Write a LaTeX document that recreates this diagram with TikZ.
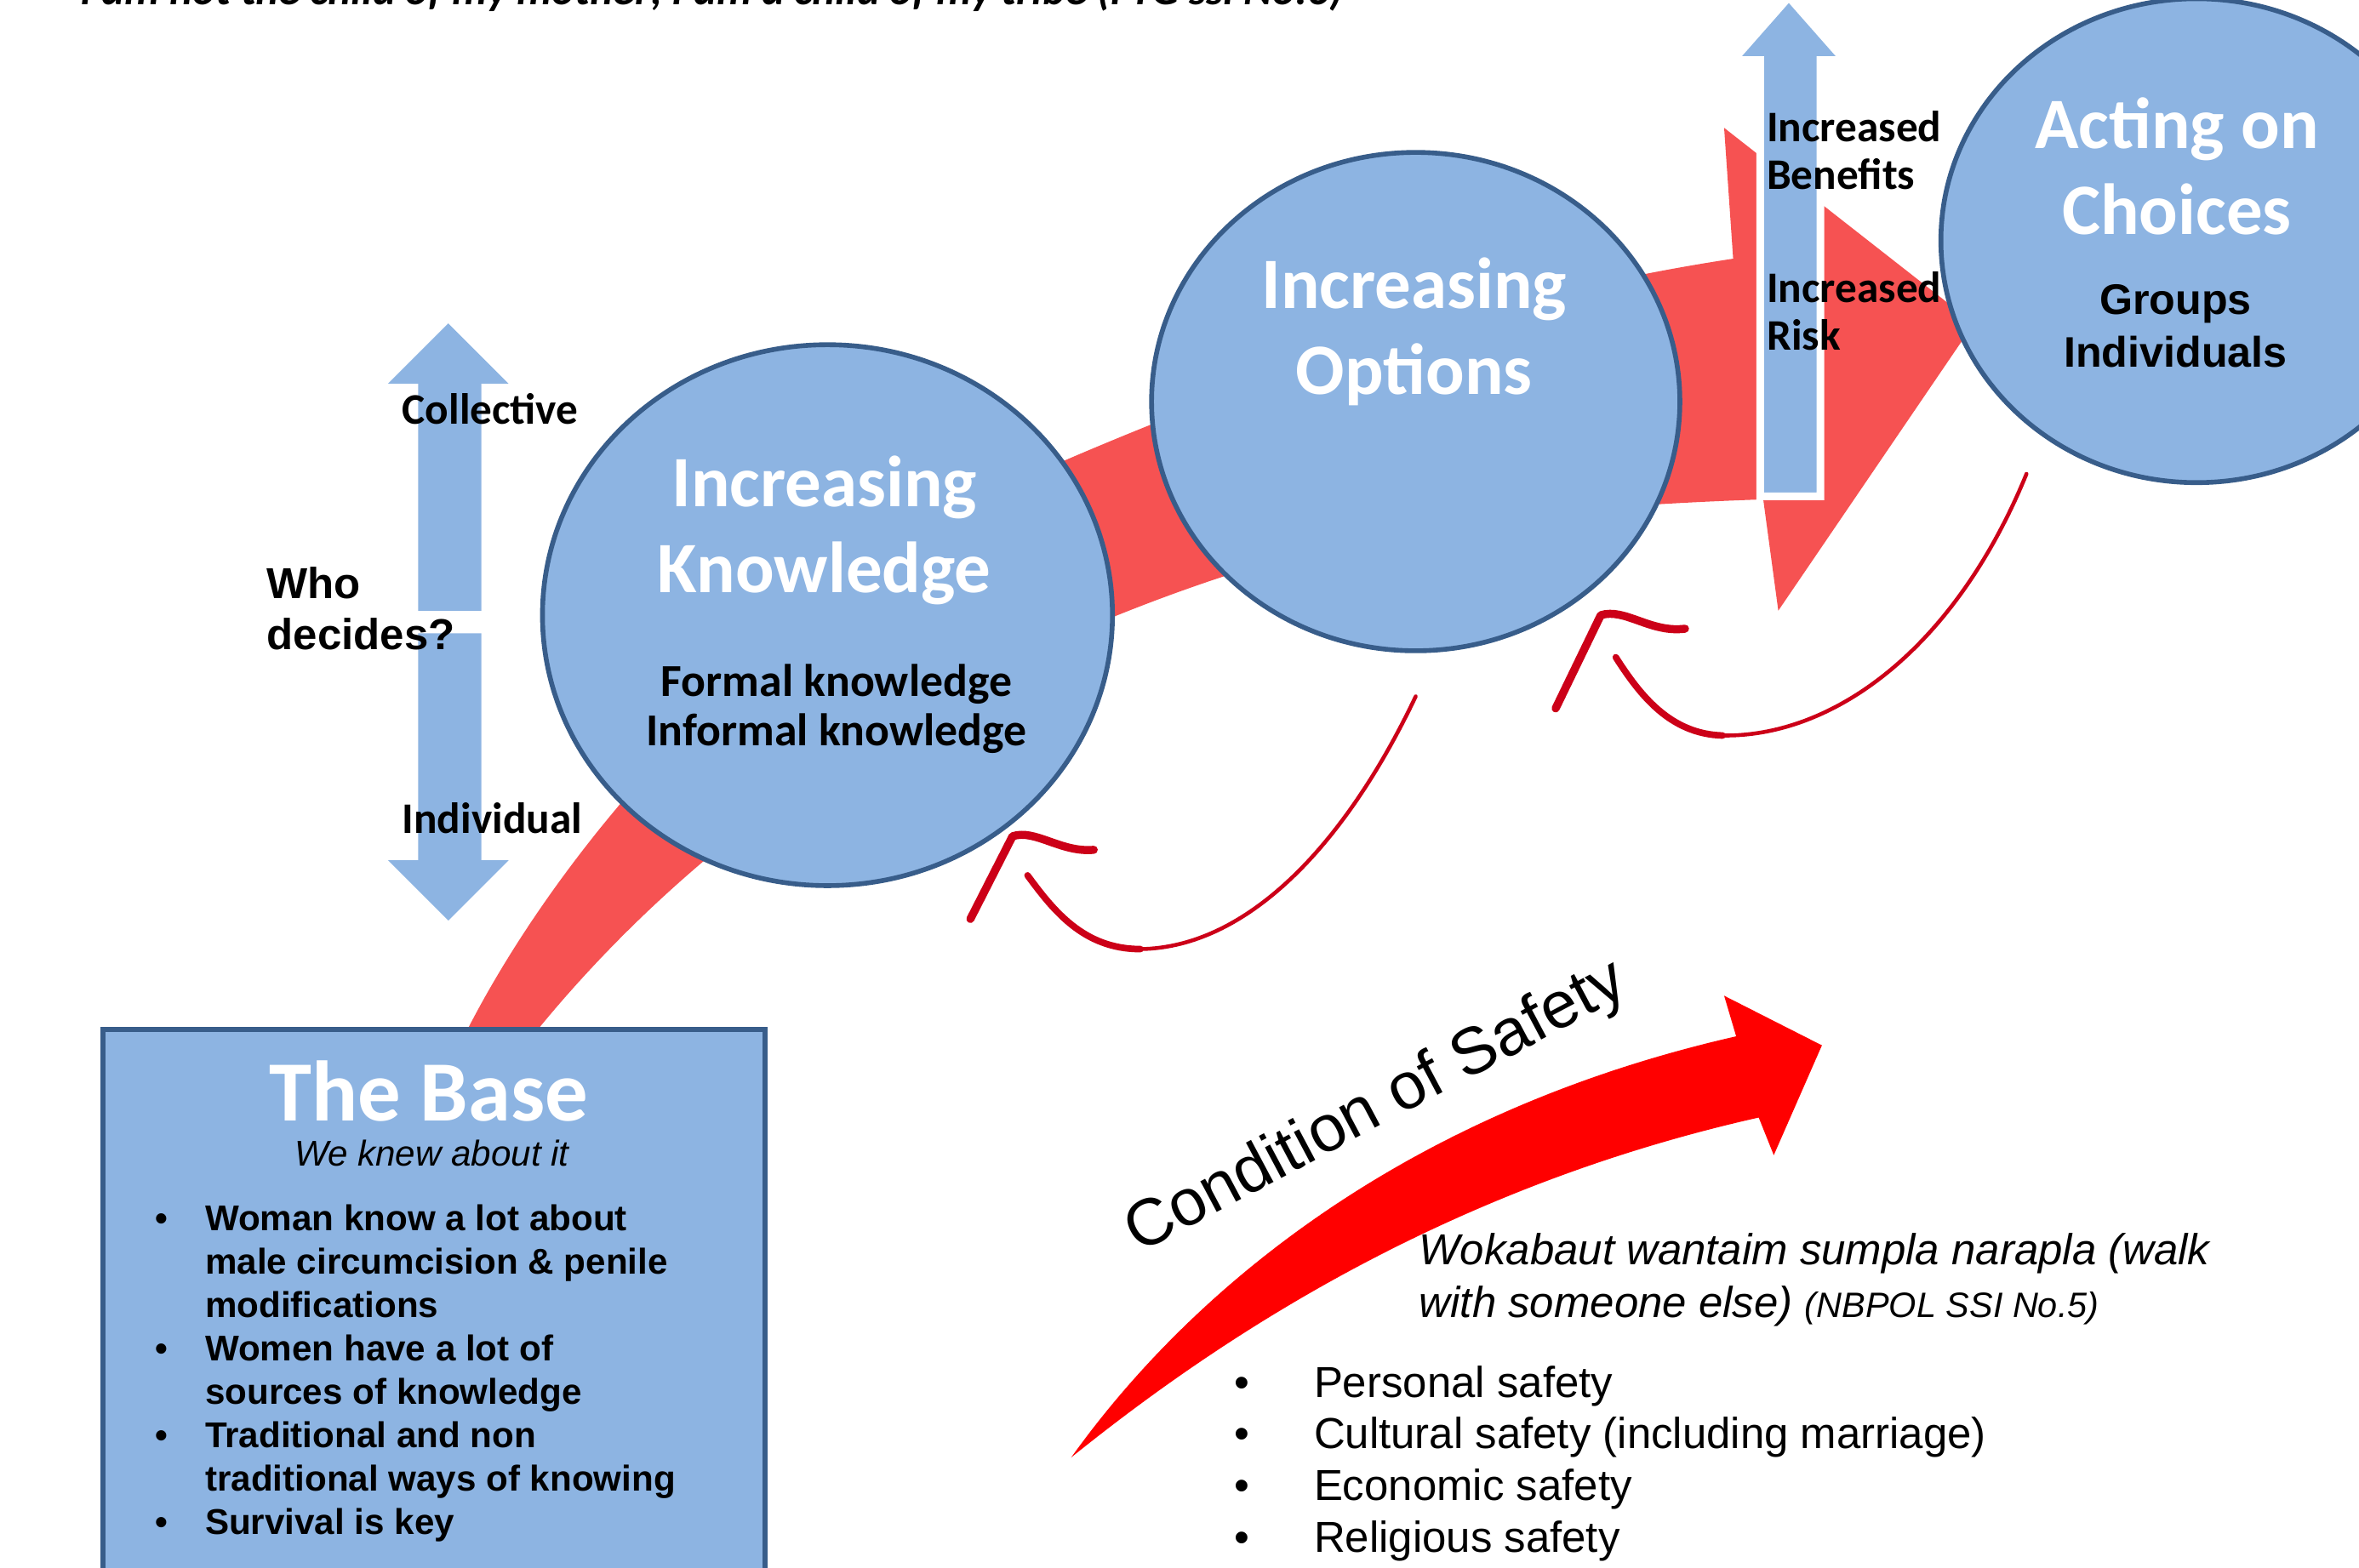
\documentclass[tikz,border=0pt]{standalone}
\usepackage{fontspec}
\setmainfont{Liberation Sans}
\newfontfamily\calibri{Carlito}
\usetikzlibrary{shapes.geometric}

\definecolor{bubblefill}{RGB}{141,180,226}
\definecolor{bubbleedge}{RGB}{56,93,138}
\definecolor{bandred}{RGB}{246,82,82}
\definecolor{safered}{RGB}{255,0,0}
\definecolor{loopred}{RGB}{204,0,24}

\tikzset{
  bubble/.style={ellipse, draw=bubbleedge, fill=bubblefill, line width=1.6pt, inner sep=0pt},
  basebox/.style={rectangle, draw=bubbleedge, fill=bubblefill, line width=1.6pt, anchor=north west, inner sep=0pt},
  bluearrow/.style={fill=bubblefill},
  title/.style={inner sep=0pt, align=center, text=white, font=\calibri\bfseries\fontsize{24.2}{28.7}\selectfont},
  subtitle/.style={inner sep=0pt, align=center, font=\calibri\bfseries\fontsize{15.3}{16.6}\selectfont},
  smalllabel/.style={inner sep=0pt, align=left, anchor=base west, font=\calibri\bfseries\fontsize{14.6}{16.1}\selectfont},
  loopline/.style={draw=loopred, line width=1.3pt, line cap=round, line join=round},
  loophead/.style={draw=loopred, line width=2.7pt, line cap=round, line join=round}
}

\begin{document}
\begin{tikzpicture}[x=0.01768cm, y=-0.01768cm]
      \clip (0,0) rectangle (1568,1042);
      % quotation line at the top edge
      \node[inner sep=0pt, anchor=base west, font=\calibri\bfseries\itshape\fontsize{14.6}{17}\selectfont] (quote) at (53,3)
        {I am not the child of my mother; I am a child of my tribe (FTG ssi No.6)};

      % the wide red band rising from the base to the last circle
      \fill[bandred] (303,700) .. controls (370,560) and (520,390) .. (708,306)
        .. controls (850,245) and (1000,195) .. (1152,172) -- (1146,85) -- (1312,215)
        -- (1182,406) -- (1172,332) .. controls (1000,338) and (900,355) .. (817,382)
        .. controls (640,440) and (470,540) .. (345,700) -- cycle;

      % who decides
      \fill[bluearrow] (278,406) -- (278,255) -- (258,255) -- (298,215) -- (338,255) -- (320,255) -- (320,406) -- cycle;
      \fill[bluearrow] (278,421) -- (278,572) -- (258,572) -- (298,612) -- (338,572) -- (320,572) -- (320,421) -- cycle;
      \node[smalllabel] (collective) at (267,282) {Collective};
      \node[smalllabel] (individual) at (267,554) {Individual};
      \node[inner sep=0pt, align=left, anchor=base west, font=\bfseries\fontsize{14.5}{17.1}\selectfont] (who) at (177,432) {Who\\decides?};

      % benefits and risk
      \filldraw[bluearrow, draw=white, line width=2.6pt] (1170,330) -- (1170,40) -- (1152,40) -- (1189,-2) -- (1226,40) -- (1210,40) -- (1210,330) -- cycle;

      % circles
      \node[bubble, minimum width=6.70cm, minimum height=6.36cm] (knowledge) at (550,409) {};
      \node[bubble, minimum width=6.21cm, minimum height=5.86cm] (options) at (941,267) {};
      \node[bubble, minimum width=6.01cm, minimum height=5.69cm] (acting) at (1460,160) {};

      \node[title, anchor=base] (knowtitle) at (548,394) {Increasing\\Knowledge};
      \node[subtitle, anchor=base] (knowsub) at (556,496) {Formal knowledge\\Informal knowledge};
      \node[title, anchor=base] (opttitle) at (940,262) {Increasing\\Options};
      \node[title, anchor=base] (acttitle) at (1447,156) {Acting on\\Choices};
      \node[inner sep=0pt, align=center, anchor=base, font=\bfseries\fontsize{14.3}{17.6}\selectfont] (actsub) at (1446,244) {Groups\\Individuals};

      \node[smalllabel] (benefits) at (1174,126) {Increased\\Benefits};
      \node[smalllabel] (risk) at (1174,233) {Increased\\Risk};

      % feedback loops
      \coordinate (loopa) at (941,463);
      \coordinate (loopb) at (1347,315);
      \draw[loopline] (loopa) .. controls (895,560) and (830,630) .. (758,631);
      \draw[loopline, line width=2.2pt] (758,631) .. controls (720,631) and (700,605) .. (683,582);
      \draw[loophead] (645,611) -- (673,556) .. controls (688,551) and (705,567) .. (727,565);
      \draw[loopline] (loopb) .. controls (1300,430) and (1220,490) .. (1145,489);
      \draw[loopline, line width=2.2pt] (1145,489) .. controls (1110,488) and (1090,462) .. (1074,437);
      \draw[loophead] (1034,471) -- (1064,409) .. controls (1080,404) and (1097,421) .. (1120,418);

      % the base
      \node[basebox, minimum width=7.78cm, minimum height=6.70cm] (base) at (67,683) {};
      \node[inner sep=0pt, anchor=base, text=white, font=\calibri\bfseries\fontsize{28.7}{32}\selectfont] (basetitle) at (285,745) {The Base};
      \node[inner sep=0pt, anchor=base, font=\itshape\fontsize{12}{14}\selectfont] (basesub) at (287,775) {We knew about it};
      \node[inner sep=0pt, align=left, anchor=base west, font=\bfseries\fontsize{12}{14.5}\selectfont] (baselist) at (136,1020)
        {\llap{\textbullet\hspace{12.5pt}}Woman know a lot about\\
         male circumcision \&  penile\\
         modifications\\
         \llap{\textbullet\hspace{12.5pt}}Women have a lot of\\
         sources  of knowledge\\
         \llap{\textbullet\hspace{12.5pt}}Traditional and non\\
         traditional ways of knowing\\
         \llap{\textbullet\hspace{12.5pt}}Survival is key};

      % condition of safety
      \fill[safered] (712,969) .. controls (790,860) and (930,740) .. (1154,689) -- (1146,662) -- (1211,695)
        -- (1179,768) -- (1169,743) .. controls (960,790) and (810,890) .. (712,969) -- cycle;
      \node[inner sep=0pt, rotate=28, font=\fontsize{22}{26}\selectfont] (safety) at (915,737) {Condition of Safety};
      \node[inner sep=0pt, align=left, anchor=base west, font=\itshape\fontsize{14.5}{17.6}\selectfont] (walk) at (943,876)
        {Wokabaut wantaim  sumpla narapla (walk\\with  someone else) {\fontsize{11.8}{14}\selectfont(NBPOL SSI No.5)}};
      \node[inner sep=0pt, align=left, anchor=base west, font=\fontsize{14.5}{17.3}\selectfont] (safelist) at (873,1032)
        {\llap{\textbullet\hspace{21.5pt}}Personal safety\\
         \llap{\textbullet\hspace{21.5pt}}Cultural safety (including marriage)\\
         \llap{\textbullet\hspace{21.5pt}}Economic safety\\
         \llap{\textbullet\hspace{21.5pt}}Religious safety};
     \end{tikzpicture}
\end{document}
